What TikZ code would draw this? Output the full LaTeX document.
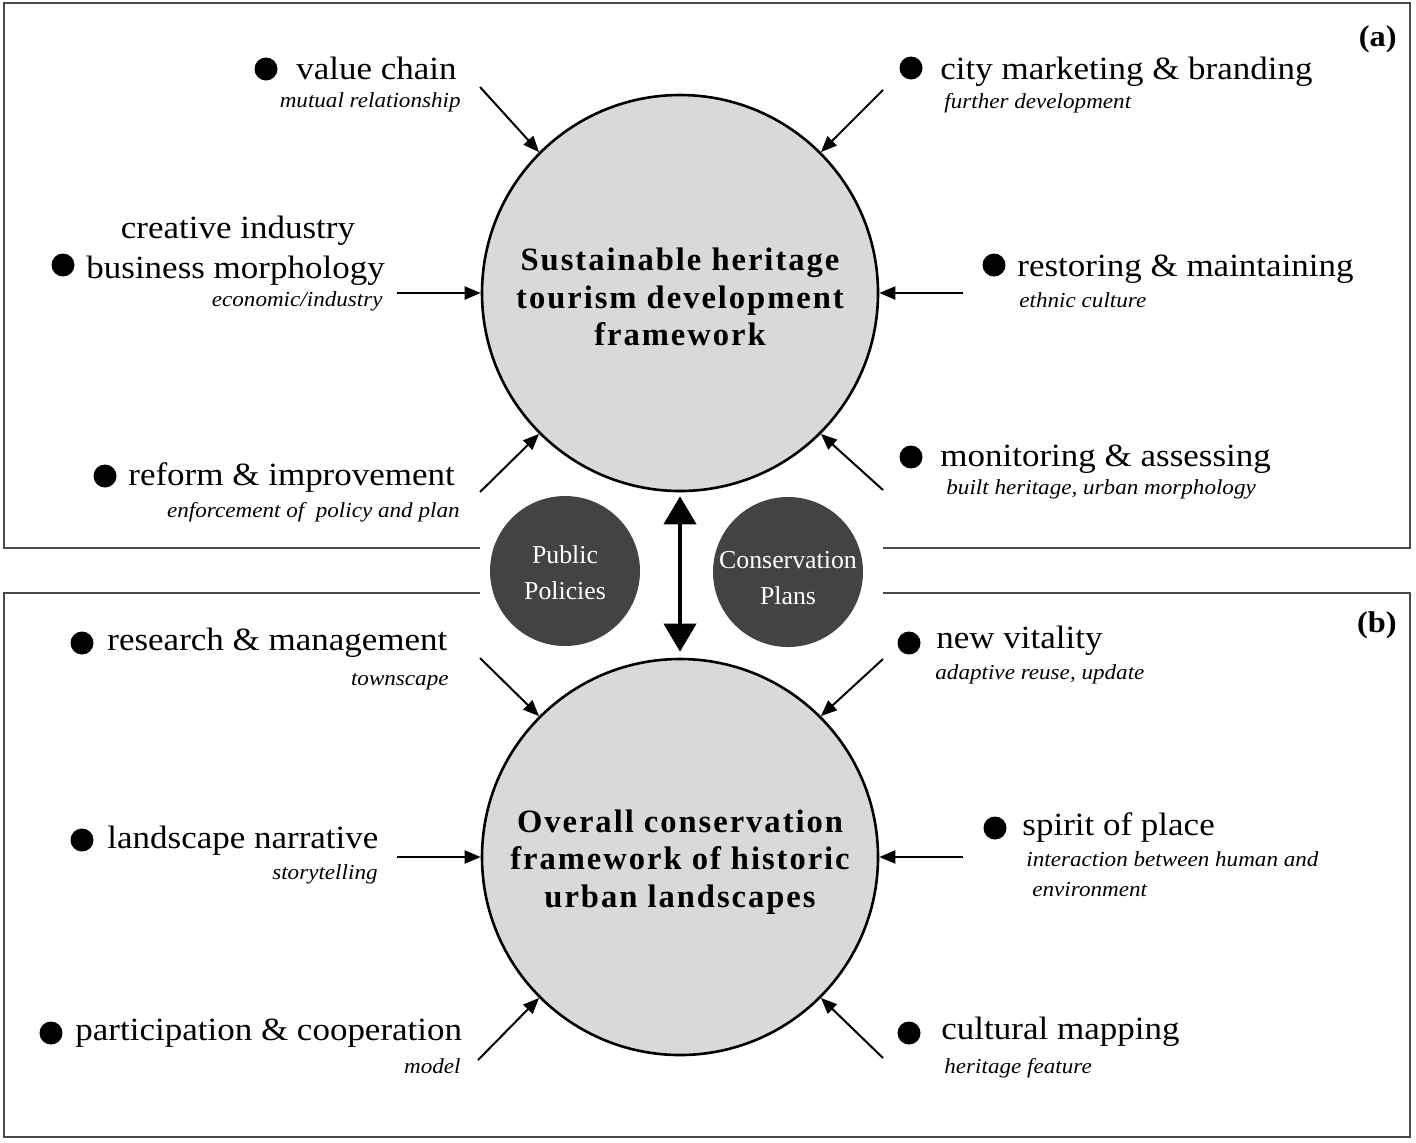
\documentclass[tikz,border=0pt]{standalone}
\usepackage{fontspec}
\setmainfont{Liberation Serif}[FakeStretch=1.08]
\newfontfamily\plainfont{Liberation Serif}
\newfontfamily\circfont{Liberation Serif}[LetterSpace=6]
\usetikzlibrary{arrows.meta,calc}
\definecolor{bigfill}{HTML}{DAD8D9}
\definecolor{smallfill}{HTML}{454341}
\definecolor{boxline}{HTML}{4A4A4A}
\begin{document}
\begin{tikzpicture}[x=0.5pt,y=-0.5pt,
  lbl/.style={inner sep=0pt,font=\fontsize{16.2}{19}\selectfont},
  sub/.style={inner sep=0pt,font=\fontsize{10.7}{12}\selectfont\itshape},
  dot/.style={circle,fill=black,inner sep=0pt,minimum size=11.5pt},
  bigc/.style={circle,draw=black,line width=1.3pt,fill=bigfill,minimum size=198pt,inner sep=0pt},
  bigtxt/.style={align=center,font=\circfont\fontsize{16.3}{18.9}\selectfont\bfseries,inner sep=0pt},
  smallc/.style={circle,fill=smallfill,minimum size=75pt,inner sep=0pt},
  smalltxt/.style={align=center,text=white,font=\plainfont\fontsize{12.9}{18}\selectfont,inner sep=0pt},
  arr/.style={line width=1pt,-{Triangle[length=8pt,width=6.5pt]}},
  dbl/.style={line width=2pt,{Triangle[length=14pt,width=16pt]}-{Triangle[length=14pt,width=16pt]}},
  frame/.style={draw=boxline,line width=0.75pt}]
\useasboundingbox[fill=white] (0,0) rectangle (1416,1142);

% frames
\draw[frame] (480,548) -- (4,548) -- (4,3) -- (1410,3) -- (1410,548) -- (883,548);
\draw[frame] (480,593) -- (4,593) -- (4,1137) -- (1410,1137) -- (1410,593) -- (883,593);

\node[inner sep=0pt,anchor=base east,font=\fontsize{15}{16}\selectfont\bfseries] (pa) at (1397,46) {(a)};
\node[inner sep=0pt,anchor=base east,font=\fontsize{15}{16}\selectfont\bfseries] (pb) at (1397,632) {(b)};

% main circles
\node[bigc] (top) at (680,293) {};
\node[bigtxt] (toptxt) at (680,297) {Sustainable heritage\\tourism development\\framework};
\node[bigc] (bot) at (680,857) {};
\node[bigtxt] (bottxt) at (680,862) {Overall conservation\\framework of historic\\urban landscapes};

% small circles
\node[smallc] (pp) at (565,571) {};
\node[smalltxt] (pptxt) at (565,573) {Public\\Policies};
\node[smallc] (cp) at (788,572) {};
\node[smalltxt] (cptxt) at (788,578) {Conservation\\Plans};

\draw[dbl,shorten <=2pt,shorten >=3pt] (top.south) -- (bot.north);

% ---- top box labels
\node[dot] (d1) at (266,69) {};
\node[lbl,anchor=base west] (l1) at (296,79) {value chain};
\node[sub,anchor=base east] (s1) at (461,107) {mutual relationship};

\node[dot] (d2) at (911,68) {};
\node[lbl,anchor=base west] (l2) at (940,79) {city marketing \& branding};
\node[sub,anchor=base west] (s2) at (944,108) {further development};

\node[lbl,anchor=base] (l3a) at (238,238) {creative industry};
\node[dot] (d3) at (63,265) {};
\node[lbl,anchor=base west] (l3) at (86,278) {business morphology};
\node[sub,anchor=base east] (s3) at (383,306) {economic/industry};

\node[dot] (d4) at (994,265) {};
\node[lbl,anchor=base west] (l4) at (1017,276) {restoring \& maintaining};
\node[sub,anchor=base west] (s4) at (1019,307) {ethnic culture};

\node[dot] (d5) at (105,476) {};
\node[lbl,anchor=base west] (l5) at (128,485) {reform \& improvement};
\node[sub,anchor=base east] (s5) at (460,517) {enforcement of\ \ policy and plan};

\node[dot] (d6) at (911,457) {};
\node[lbl,anchor=base west] (l6) at (940,466) {monitoring \& assessing};
\node[sub,anchor=base west] (s6) at (946,494) {built heritage, urban morphology};

% ---- bottom box labels
\node[dot] (d7) at (82,643) {};
\node[lbl,anchor=base west] (l7) at (107,650) {research \& management};
\node[sub,anchor=base east] (s7) at (449,685) {townscape};

\node[dot] (d8) at (909,643) {};
\node[lbl,anchor=base west] (l8) at (936,648) {new vitality};
\node[sub,anchor=base west] (s8) at (935,679) {adaptive reuse, update};

\node[dot] (d9) at (82,840) {};
\node[lbl,anchor=base west] (l9) at (107,848) {landscape narrative};
\node[sub,anchor=base east] (s9) at (378,879) {storytelling};

\node[dot] (d10) at (995,828) {};
\node[lbl,anchor=base west] (l10) at (1022,835) {spirit of place};
\node[sub,anchor=base west] (s10) at (1026,866) {interaction between human and};
\node[sub,anchor=base west] (s10b) at (1032,896) {environment};

\node[dot] (d11) at (51,1033) {};
\node[lbl,anchor=base west] (l11) at (75,1040) {participation \& cooperation};
\node[sub,anchor=base east] (s11) at (461,1073) {model};

\node[dot] (d12) at (909,1033) {};
\node[lbl,anchor=base west] (l12) at (941,1039) {cultural mapping};
\node[sub,anchor=base west] (s12) at (944,1073) {heritage feature};

% arrow start points
\coordinate (a1) at (480,87);
\coordinate (a2) at (883,90);
\coordinate (a3) at (397,293);
\coordinate (a4) at (963,293);
\coordinate (a5) at (480,492);
\coordinate (a6) at (883,490);
\coordinate (b1) at (480,658);
\coordinate (b2) at (883,659);
\coordinate (b3) at (397,857);
\coordinate (b4) at (963,857);
\coordinate (b5) at (478,1060);
\coordinate (b6) at (883,1058);

\draw[arr] (a1) -- (top.north west);
\draw[arr] (a2) -- (top.north east);
\draw[arr] (a3) -- (top.west);
\draw[arr] (a4) -- (top.east);
\draw[arr] (a5) -- (top.south west);
\draw[arr] (a6) -- (top.south east);
\draw[arr] (b1) -- (bot.north west);
\draw[arr] (b2) -- (bot.north east);
\draw[arr] (b3) -- (bot.west);
\draw[arr] (b4) -- (bot.east);
\draw[arr] (b5) -- (bot.south west);
\draw[arr] (b6) -- (bot.south east);
\end{tikzpicture}
\end{document}
